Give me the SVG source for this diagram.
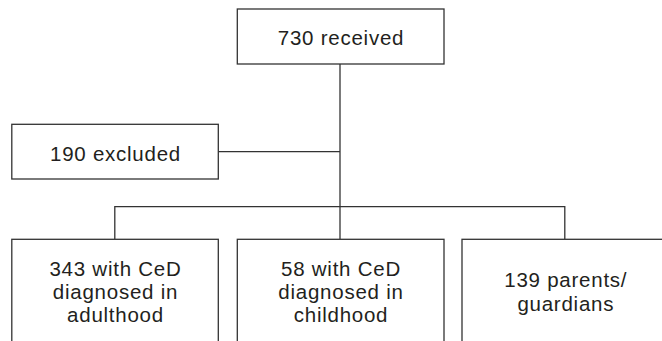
<svg xmlns="http://www.w3.org/2000/svg" width="662" height="341" viewBox="0 0 662 341">
  <style>
    .box { fill: #ffffff; stroke: #333333; stroke-width: 1.3; }
    .conn { fill: none; stroke: #333333; stroke-width: 1.3; }
    .lbl { font-family: "Liberation Sans", Arial, sans-serif; font-size: 20.5px; letter-spacing: 0.75px; fill: #231f20; text-anchor: middle; }
  </style>
  <rect x="0" y="0" width="662" height="341" fill="#ffffff"/>
  <g id="connectors">
    <path class="conn" d="M340,64 V239.3"/>
    <path class="conn" d="M218.3,151.7 H340"/>
    <path class="conn" d="M114.8,239.3 V206.7 H564.8 V239.3"/>
  </g>
  <g id="received">
    <rect class="box" x="237.3" y="9" width="206.7" height="55"/>
    <text class="lbl" x="341" y="45.3">730 received</text>
  </g>
  <g id="excluded">
    <rect class="box" x="11.8" y="124.3" width="206.5" height="54.7"/>
    <text class="lbl" x="115.5" y="160.7">190 excluded</text>
  </g>
  <g id="adulthood">
    <rect class="box" x="11.8" y="239.3" width="206.5" height="130"/>
    <text class="lbl" x="115.5" y="275.5">343 with CeD</text>
    <text class="lbl" x="115.5" y="298.8">diagnosed in</text>
    <text class="lbl" x="115.5" y="322">adulthood</text>
  </g>
  <g id="childhood">
    <rect class="box" x="237.3" y="239.3" width="206.7" height="130"/>
    <text class="lbl" x="341" y="275.5">58 with CeD</text>
    <text class="lbl" x="341" y="298.8">diagnosed in</text>
    <text class="lbl" x="341" y="322">childhood</text>
  </g>
  <g id="parents">
    <rect class="box" x="462" y="239.3" width="207" height="130"/>
    <text class="lbl" x="565.8" y="287.3">139 parents/</text>
    <text class="lbl" x="565.8" y="311">guardians</text>
  </g>
</svg>
